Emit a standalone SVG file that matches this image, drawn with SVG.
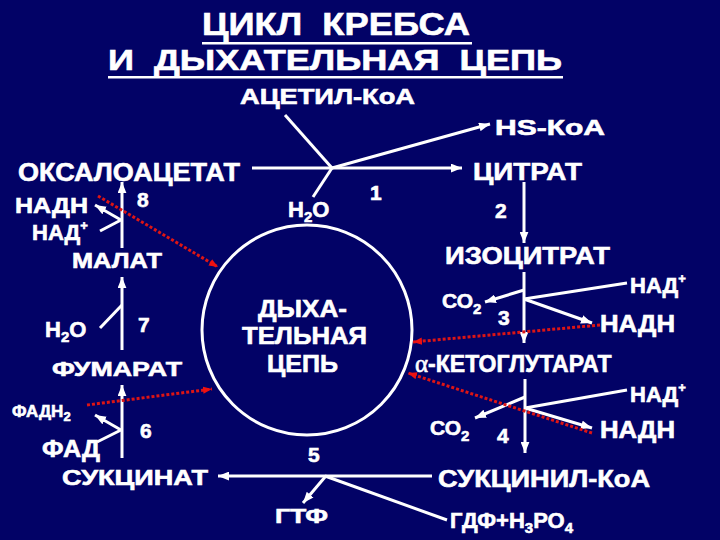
<svg xmlns="http://www.w3.org/2000/svg" width="720" height="540" viewBox="0 0 720 540">
<defs>
<style>
text{font-family:"Liberation Sans",Arial,sans-serif;font-weight:bold;fill:#ffffff;stroke:#ffffff;stroke-width:0.6}
.t{font-size:24px}
.n{font-size:21px}
.w{stroke:#ffffff;stroke-width:3;fill:none}
.r{stroke:#dd1515;stroke-width:3;stroke-dasharray:3 2;fill:none}
</style>
<marker id="ah" viewBox="0 0 10 8" refX="10" refY="4" markerWidth="11" markerHeight="9" markerUnits="userSpaceOnUse" orient="auto"><path d="M0,0 L10,4 L0,8 z" fill="#ffffff"/></marker>
<marker id="rh" viewBox="0 0 10 8" refX="10" refY="4" markerWidth="9" markerHeight="8" markerUnits="userSpaceOnUse" orient="auto"><path d="M0,0 L10,4 L0,8 z" fill="#ee1111"/></marker>
</defs>
<rect width="720" height="540" fill="#020266"/>

<g id="title">
<text x="202" y="35" font-size="31" textLength="268" lengthAdjust="spacingAndGlyphs" xml:space="preserve">ЦИКЛ  КРЕБСА</text>
<rect x="202" y="42" width="270" height="2.5" fill="#fff"/>
<text x="108" y="70" font-size="29" textLength="454" lengthAdjust="spacingAndGlyphs" xml:space="preserve">И  ДЫХАТЕЛЬНАЯ  ЦЕПЬ</text>
<rect x="108" y="76" width="455" height="2.5" fill="#fff"/>
</g>

<g id="connectors">
<line class="w" x1="285" y1="115" x2="332" y2="168"/>
<line class="w" x1="252" y1="168" x2="462" y2="168" marker-end="url(#ah)"/>
<line class="w" x1="332" y1="168" x2="490" y2="124" marker-end="url(#ah)"/>
<line class="w" x1="313" y1="197" x2="332" y2="168"/>
<line class="w" x1="524" y1="182" x2="524" y2="243" marker-end="url(#ah)"/>
<line class="w" x1="524" y1="272" x2="524" y2="343" marker-end="url(#ah)"/>
<line class="w" x1="627" y1="283" x2="524" y2="299"/>
<line class="w" x1="524" y1="299" x2="592" y2="323" marker-end="url(#ah)"/>
<line class="w" x1="524" y1="290" x2="485" y2="302" marker-end="url(#ah)"/>
<line class="w" x1="525" y1="379" x2="525" y2="453" marker-end="url(#ah)"/>
<line class="w" x1="627" y1="390" x2="525" y2="408"/>
<line class="w" x1="525" y1="408" x2="592" y2="428" marker-end="url(#ah)"/>
<line class="w" x1="525" y1="397" x2="475" y2="418" marker-end="url(#ah)"/>
<line class="w" x1="432" y1="476" x2="218" y2="476" marker-end="url(#ah)"/>
<line class="w" x1="447" y1="520" x2="325" y2="476"/>
<line class="w" x1="325" y1="477" x2="303" y2="503" marker-end="url(#ah)"/>
<line class="w" x1="122" y1="458" x2="122" y2="385" marker-end="url(#ah)"/>
<line class="w" x1="97" y1="442" x2="121" y2="430"/>
<line class="w" x1="121" y1="430" x2="95" y2="415" marker-end="url(#ah)"/>
<line class="w" x1="122" y1="350" x2="122" y2="277" marker-end="url(#ah)"/>
<line class="w" x1="100" y1="328" x2="122" y2="305"/>
<line class="w" x1="122" y1="248" x2="122" y2="182" marker-end="url(#ah)"/>
<line class="w" x1="100" y1="231" x2="121" y2="220"/>
<line class="w" x1="121" y1="220" x2="95" y2="205" marker-end="url(#ah)"/>
<line class="r" x1="98" y1="196" x2="218" y2="267" marker-end="url(#rh)"/>
<line class="r" x1="87" y1="405" x2="212" y2="389" marker-end="url(#rh)"/>
<line class="r" x1="600" y1="325" x2="413" y2="342" marker-end="url(#rh)"/>
<line class="r" x1="592" y1="433" x2="408" y2="373" marker-end="url(#rh)"/>
</g>

<g id="resp-chain">
<circle cx="307" cy="330" r="105" fill="none" stroke="#fff" stroke-width="3"/>
<text class="t" x="258" y="317" textLength="89" lengthAdjust="spacingAndGlyphs">ДЫХА-</text>
<text class="t" x="242" y="344" textLength="125" lengthAdjust="spacingAndGlyphs">ТЕЛЬНАЯ</text>
<text class="t" x="267" y="372" textLength="71" lengthAdjust="spacingAndGlyphs">ЦЕПЬ</text>
</g>

<g id="acetyl"><text x="240" y="104" font-size="22" textLength="175" lengthAdjust="spacingAndGlyphs">АЦЕТИЛ-КоА</text></g>
<g id="hskoa"><text x="495" y="135" font-size="22" textLength="110" lengthAdjust="spacingAndGlyphs">HS-КоА</text></g>
<g id="oxaloacetate"><text x="18" y="181" font-size="25" textLength="222" lengthAdjust="spacingAndGlyphs">ОКСАЛОАЦЕТАТ</text></g>
<g id="citrate"><text x="473" y="180" font-size="24" textLength="109" lengthAdjust="spacingAndGlyphs">ЦИТРАТ</text></g>
<g id="h2o-1"><text x="288" y="217" font-size="22">Н<tspan font-size="15" dy="5">2</tspan><tspan dy="-5">О</tspan></text></g>
<g id="isocitrate"><text x="445" y="264" font-size="24" textLength="165" lengthAdjust="spacingAndGlyphs">ИЗОЦИТРАТ</text></g>
<g id="co2-3"><text x="442" y="308" font-size="21">СО<tspan font-size="15" dy="6">2</tspan></text></g>
<g id="nad-3"><text x="630" y="293" font-size="22">НАД<tspan font-size="13" dy="-10">+</tspan></text></g>
<g id="nadh-3"><text x="600" y="332" font-size="23" textLength="75" lengthAdjust="spacingAndGlyphs">НАДН</text></g>
<g id="akg"><text x="415" y="372" font-size="23"><tspan font-family="Liberation Serif,serif" font-weight="normal" font-size="25">α</tspan><tspan>-КЕТОГЛУТАРАТ</tspan></text></g>
<g id="nad-4"><text x="630" y="402" font-size="22">НАД<tspan font-size="13" dy="-10">+</tspan></text></g>
<g id="co2-4"><text x="430" y="435" font-size="21">СО<tspan font-size="15" dy="6">2</tspan></text></g>
<g id="nadh-4"><text x="600" y="438" font-size="23" textLength="75" lengthAdjust="spacingAndGlyphs">НАДН</text></g>
<g id="succinylcoa"><text x="438" y="487" font-size="24" textLength="212" lengthAdjust="spacingAndGlyphs">СУКЦИНИЛ-КоА</text></g>
<g id="gdf"><text x="450" y="528" font-size="22">ГДФ+Н<tspan font-size="15" dy="5">3</tspan><tspan dy="-5">РО</tspan><tspan font-size="15" dy="5">4</tspan></text></g>
<g id="gtf"><text x="275" y="523" font-size="21" textLength="53" lengthAdjust="spacingAndGlyphs">ГТФ</text></g>
<g id="succinate"><text x="62" y="485" font-size="22" textLength="146" lengthAdjust="spacingAndGlyphs">СУКЦИНАТ</text></g>
<g id="fad"><text x="42" y="457" font-size="23" textLength="58" lengthAdjust="spacingAndGlyphs">ФАД</text></g>
<g id="fadh2"><text x="12" y="417" font-size="17">ФАДН<tspan font-size="13" dy="4">2</tspan></text></g>
<g id="fumarate"><text x="52" y="376" font-size="21" textLength="130" lengthAdjust="spacingAndGlyphs">ФУМАРАТ</text></g>
<g id="h2o-7"><text x="45" y="337" font-size="22">Н<tspan font-size="15" dy="5">2</tspan><tspan dy="-5">О</tspan></text></g>
<g id="malate"><text x="72" y="268" font-size="22" textLength="90" lengthAdjust="spacingAndGlyphs">МАЛАТ</text></g>
<g id="nadh-8"><text x="15" y="213" font-size="22" textLength="73" lengthAdjust="spacingAndGlyphs">НАДН</text></g>
<g id="nad-8"><text x="32" y="240" font-size="22">НАД<tspan font-size="13" dy="-10">+</tspan></text></g>

<g id="steps">
<text class="n" x="370" y="200">1</text>
<text class="n" x="495" y="218">2</text>
<text class="n" x="498" y="325">3</text>
<text class="n" x="497" y="443">4</text>
<text class="n" x="308" y="462">5</text>
<text class="n" x="140" y="438">6</text>
<text class="n" x="138" y="332">7</text>
<text class="n" x="137" y="207">8</text>
</g>
</svg>
